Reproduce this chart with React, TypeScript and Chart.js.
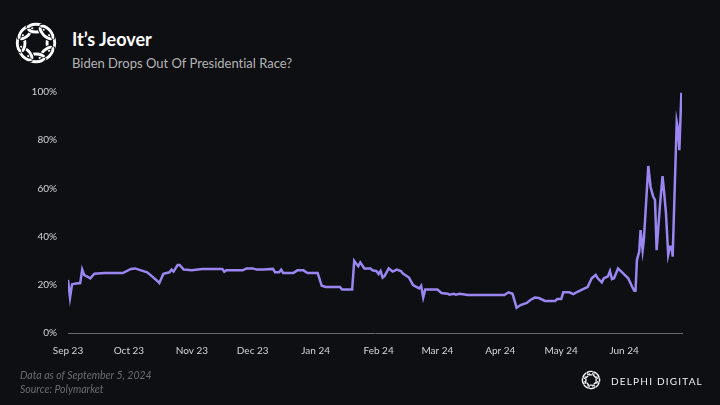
import React, { useEffect, useRef } from "react";
import { Chart, registerables } from "chart.js";

Chart.register(...registerables);

// Day offsets from Sep 1, 2023
const days: number[] = [
  0, 1, 2, 4, 6, 7, 8, 10, 11, 13, 18, 27, 31, 33, 36, 39, 41, 44, 45, 47, 50, 51, 52, 54, 55, 57, 61, 66, 76, 77, 78,
  86, 88, 91, 93, 96, 101, 102, 104, 105, 106, 111, 113, 116, 118, 123, 125, 127, 134, 135, 140, 141, 143, 144, 146,
  149, 150, 152, 153, 154, 155, 156, 158, 160, 162, 164, 165, 168, 170, 173, 174, 175, 176, 182, 184, 187, 188, 190,
  191, 193, 197, 215, 217, 219, 221, 223, 226, 228, 230, 232, 235, 240, 241, 243, 244, 247, 249, 251, 254, 256, 258,
  260, 261, 263, 264, 266, 267, 268, 269, 271, 273, 274, 276, 278, 279, 279.6, 280.3, 281.4, 282.1, 283.1, 283.7,
  285.9, 287, 288.3, 289.2, 290, 291.6, 292.9, 293.6, 294.6, 295.7, 296.6, 297.4, 297.9, 299.9, 300.5, 301.2, 302.2,
];

// Probability (%) that Biden drops out
const odds: number[] = [
  22, 14.7, 20.2, 20.5, 20.7, 26.3, 24, 23.2, 22.7, 24.6, 24.9, 24.9, 26.6, 26.8, 26, 25.2, 23.8, 21.6, 20.7, 24.6, 25.2,
  26.3, 25.5, 28.2, 28.2, 26.3, 26, 26.6, 26.6, 25.4, 26, 26, 26.8, 26.8, 26.3, 26.3, 26.6, 25.2, 25.2, 26.3, 24.9,
  24.9, 26, 26, 24.9, 24.9, 19.6, 19.1, 19.1, 18, 18, 29.9, 27.7, 29.3, 26.8, 26.8, 26, 25.7, 24.5, 25.7, 23, 23.7,
  26.8, 25.5, 26.3, 25.7, 24.7, 23, 19.9, 18.5, 19.6, 14.7, 18, 18, 16.6, 16.3, 15.9, 16.3, 15.9, 16.3, 15.8, 15.8,
  16.9, 16.3, 10.5, 11.6, 12.5, 13.8, 14.7, 14.5, 13.3, 13.3, 14.1, 14.1, 16.9, 16.9, 16.1, 17.1, 18.3, 19.1, 22.7,
  24.1, 22.7, 21, 22.7, 23.5, 25.7, 22.4, 22.7, 26.8, 25.2, 24.3, 22.7, 19.1, 17.5, 17.5, 30.3, 33.7, 42.7, 34.2, 38.6,
  69.3, 60.7, 56.6, 55.2, 34.4, 52.4, 65.1, 59.3, 49.7, 32.4, 35.8, 35.8, 31.7, 87.7, 84.9, 75.9, 99.7,
];

const monthTicks: number[] = [0, 30, 61, 91, 122, 153, 182, 213, 243, 274];
const monthLabels: string[] = [
  "Sep 23", "Oct 23", "Nov 23", "Dec 23", "Jan 24", "Feb 24", "Mar 24", "Apr 24", "May 24", "Jun 24",
];

const FONT = "Lato, 'Open Sans', sans-serif";
const BG = "#0e0f13";

function Knot({ size, stroke }: { size: number; stroke: number }) {
  const n = 8;
  const under = [];
  const over = [];
  for (let i = 0; i < n; i++) {
    const a = (i / n) * Math.PI * 2;
    const cx = 50 + Math.cos(a) * 31;
    const cy = 50 + Math.sin(a) * 31;
    const deg = (a * 180) / Math.PI + 90;
    const t = `translate(${cx.toFixed(2)} ${cy.toFixed(2)}) rotate(${deg.toFixed(1)})`;
    under.push(
      <g key={"u" + i} transform={t}>
        <ellipse rx={17} ry={8} fill="none" stroke={BG} strokeWidth={stroke + 4} />
        <ellipse rx={17} ry={8} fill="none" stroke="#ffffff" strokeWidth={stroke} />
      </g>
    );
    over.push(
      <g key={"o" + i} transform={t}>
        <path d="M -17 0 A 17 8 0 0 1 17 0" fill="none" stroke={BG} strokeWidth={stroke + 4} />
        <path d="M -17 0 A 17 8 0 0 1 17 0" fill="none" stroke="#ffffff" strokeWidth={stroke} />
      </g>
    );
  }
  return (
    <svg width={size} height={size} viewBox="0 0 100 100">
      {under}
      {over}
    </svg>
  );
}

export default function App() {
  const ref = useRef<HTMLCanvasElement | null>(null);

  useEffect(() => {
    document.body.style.margin = "0";
    const ctx = ref.current;
    if (!ctx) return;
    const chart = new Chart(ctx, {
      type: "line",
      data: {
        datasets: [
          {
            data: days.map((d, i) => ({ x: d, y: odds[i] })),
            borderColor: "#9a86f0",
            borderWidth: 2.5,
            pointRadius: 0,
            tension: 0,
            fill: false,
          },
        ],
      },
      options: {
        animation: false,
        responsive: false,
        maintainAspectRatio: false,
        layout: { padding: { left: 0, right: 38, top: 92, bottom: 42 } },
        plugins: { legend: { display: false }, tooltip: { enabled: false } },
        scales: {
          x: {
            type: "linear",
            min: 0,
            max: 302.5,
            grid: { display: false, drawTicks: false },
            border: { display: true, color: "#6a6a6a", width: 1 },
            afterBuildTicks: (scale: any) => {
              scale.ticks = monthTicks.map((v) => ({ value: v }));
            },
            afterFit: (scale: any) => {
              scale.height = 30;
            },
            ticks: {
              autoSkip: false,
              maxRotation: 0,
              padding: 12,
              color: "#d4d4d4",
              font: { family: FONT, size: 10 },
              callback: (_v: any, i: number) => monthLabels[i],
            },
          },
          y: {
            min: 0,
            max: 100,
            grid: { display: false, drawTicks: false },
            border: { display: false },
            afterFit: (scale: any) => {
              scale.width = 68;
            },
            ticks: {
              stepSize: 20,
              padding: 11,
              color: "#d4d4d4",
              font: { family: FONT, size: 10 },
              callback: (v: any) => `${v}%`,
            },
          },
        },
      },
    });
    return () => chart.destroy();
  }, []);

  return (
    <div
      style={{
        position: "fixed",
        left: 0,
        top: 0,
        width: 720,
        height: 405,
        background: BG,
        overflow: "hidden",
        fontFamily: FONT,
        fontVariantLigatures: "none",
      }}
    >
      <div style={{ position: "absolute", left: 12, top: 19 }}>
        <Knot size={48} stroke={6} />
      </div>
      <div
        style={{
          position: "absolute",
          left: 72,
          top: 28,
          color: "#ffffff",
          fontWeight: 700,
          fontSize: 18,
          lineHeight: "22px",
          whiteSpace: "nowrap",
        }}
      >
        It’s Jeover
      </div>
      <div
        style={{
          position: "absolute",
          left: 72,
          top: 55,
          color: "#b4b4b4",
          fontSize: 13,
          lineHeight: "17px",
          whiteSpace: "nowrap",
        }}
      >
        Biden Drops Out Of Presidential Race?
      </div>
      <canvas ref={ref} width={720} height={405} style={{ position: "absolute", left: 0, top: 0, width: 720, height: 405 }} />
      <div
        style={{
          position: "absolute",
          left: 20,
          top: 368,
          color: "#6c6c6c",
          fontStyle: "italic",
          fontSize: 10.5,
          lineHeight: "14px",
          whiteSpace: "nowrap",
        }}
      >
        Data as of September 5, 2024
        <br />
        Source: Polymarket
      </div>
      <div style={{ position: "absolute", left: 580, top: 369 }}>
        <Knot size={22} stroke={6} />
      </div>
      <div
        style={{
          position: "absolute",
          left: 611,
          top: 374,
          color: "#f0f0f0",
          fontSize: 10,
          letterSpacing: 1.2,
          lineHeight: "14px",
          whiteSpace: "nowrap",
        }}
      >
        DELPHI DIGITAL
      </div>
    </div>
  );
}
